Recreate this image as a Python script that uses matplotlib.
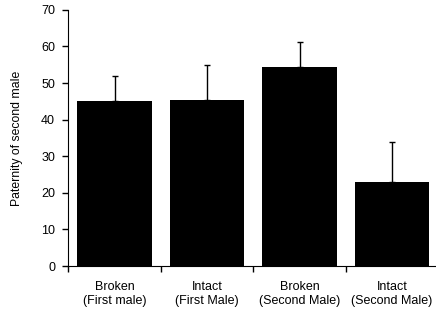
import numpy as np
import matplotlib.pyplot as plt

plt.rcParams['font.family'] = ['Liberation Sans', 'DejaVu Sans']

# data
groups = ['Broken\n(First male)', 'Intact\n(First Male)', 'Broken\n(Second Male)', 'Intact\n(Second Male)']
paternity = [45.0, 45.3, 54.3, 23.0]
err_up = [7.0, 9.6, 6.8, 11.0]

fig = plt.figure(figsize=(4.36, 3.09), dpi=100)
ax = fig.add_axes([0.1567, 0.139, 0.8486, 0.829])

x = np.arange(len(groups))
ax.bar(x, paternity, width=0.805, color='black')
ax.errorbar(x, paternity, yerr=[np.zeros(len(err_up)), err_up], fmt='none',
            ecolor='black', elinewidth=1, capsize=2.5, capthick=1)

ax.set_xlim(-0.5, 3.5)
ax.set_ylim(0, 70)
ax.set_yticks(range(0, 71, 10))
ax.set_xticks(x)
ax.set_xticklabels(groups, fontsize=9, linespacing=1.2)
ax.set_xticks(np.arange(-0.5, 3.0, 1.0), minor=True)
ax.tick_params(axis='x', which='major', length=0, pad=11)
ax.tick_params(axis='x', which='minor', length=4, width=1, direction='out')
ax.tick_params(axis='y', length=4.5, width=1, direction='out', labelsize=9, pad=5)
ax.set_ylabel('Paternity of second male', fontsize=8.8, labelpad=13)

ax.spines['top'].set_visible(False)
ax.spines['right'].set_visible(False)

fig.savefig('out.png', dpi=100)
